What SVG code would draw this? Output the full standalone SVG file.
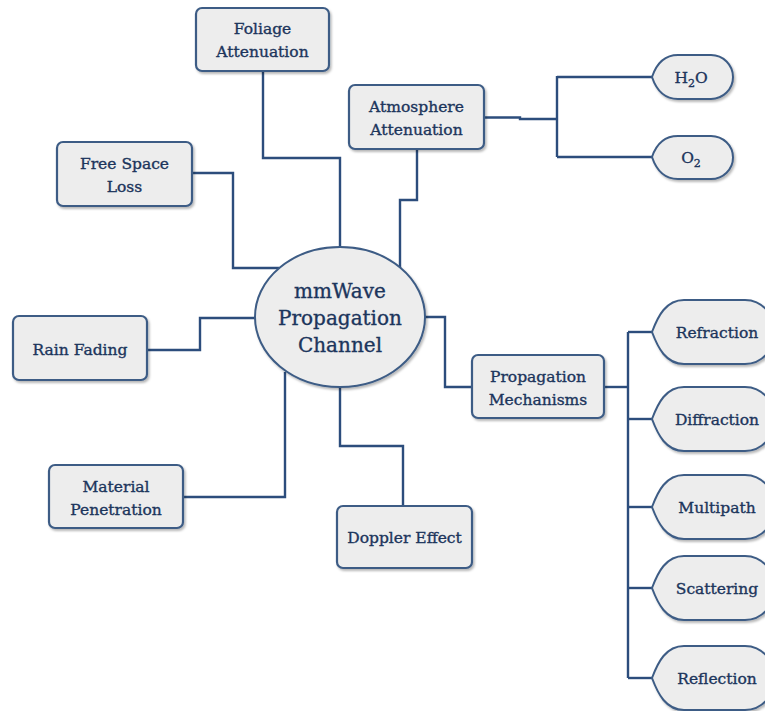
<svg xmlns="http://www.w3.org/2000/svg" width="765" height="711" viewBox="0 0 765 711">
  <defs>
    <filter id="shadow" x="-10%" y="-10%" width="130%" height="140%">
      <feDropShadow dx="1.5" dy="2" stdDeviation="1.2" flood-color="#000" flood-opacity="0.28"/>
    </filter>
    <style>
      .box { fill: #ededed; stroke: #3d5c85; stroke-width: 2.2; filter: url(#shadow); }
      .leaf { fill: #ededed; stroke: #3d5c85; stroke-width: 2; filter: url(#shadow); }
      .hub { fill: #ededed; stroke: #3d5c85; stroke-width: 2; filter: url(#shadow); }
      .lbl { font-family: "DejaVu Serif", "Liberation Serif", serif; font-size: 15.5px; fill: #1c355c; stroke: #1c355c; stroke-width: 0.35; text-anchor: middle; }
      .hubl { font-family: "DejaVu Serif", "Liberation Serif", serif; font-size: 20px; fill: #1c355c; stroke: #1c355c; stroke-width: 0.35; text-anchor: middle; }
      .wire { fill: none; stroke: #2c4d7c; stroke-width: 2.4; }
    </style>
  </defs>
  <rect width="765" height="711" fill="#ffffff"/>

  <!-- connectors -->
  <g id="connectors" class="wire">
    <path d="M263,71 V158 H340 V247"/>
    <path d="M417,149 V200 H400 V268"/>
    <path d="M484,117.5 H520 V119 H557"/>
    <path d="M557,76 V157"/>
    <path d="M557,77 H652"/>
    <path d="M557,157 H652"/>
    <path d="M192,173 H233 V268 H279"/>
    <path d="M147,350 H200 V318 H256"/>
    <path d="M183,497 H285 V372"/>
    <path d="M403,506 V446 H340 V387"/>
    <path d="M425,317 H445 V387 H472"/>
    <path d="M604,387 H628"/>
    <path d="M628,332 V678"/>
    <path d="M628,332 H652"/>
    <path d="M628,419 H652"/>
    <path d="M628,507 H652"/>
    <path d="M628,588 H652"/>
    <path d="M628,678 H652"/>
  </g>

  <!-- central hub -->
  <g id="hub">
    <ellipse class="hub" cx="340" cy="317" rx="85" ry="70"/>
    <text class="hubl" x="340" y="298">mmWave</text>
    <text class="hubl" x="340" y="325">Propagation</text>
    <text class="hubl" x="340" y="352">Channel</text>
  </g>

  <g id="foliage">
    <rect class="box" x="196" y="8" width="133" height="63" rx="6"/>
    <text class="lbl" x="262.5" y="34">Foliage</text>
    <text class="lbl" x="262.5" y="57">Attenuation</text>
  </g>

  <g id="atmosphere">
    <rect class="box" x="349" y="85" width="135" height="64" rx="6"/>
    <text class="lbl" x="416.5" y="112">Atmosphere</text>
    <text class="lbl" x="416.5" y="135">Attenuation</text>
  </g>

  <g id="h2o">
    <path class="leaf" d="M652,77 C656,65 663,55 678,55 L711,55 A22,22 0 0 1 711,99 L678,99 C663,99 656,89 652,77 Z"/>
    <text class="lbl" x="691" y="83">H<tspan font-size="11" dy="4">2</tspan><tspan dy="-4">O</tspan></text>
  </g>

  <g id="o2">
    <path class="leaf" d="M652,157 C656,145 663,136 678,136 L711,136 A22,21.5 0 0 1 711,179 L678,179 C663,179 656,169 652,157 Z"/>
    <text class="lbl" x="691" y="163">O<tspan font-size="11" dy="4">2</tspan></text>
  </g>

  <g id="free-space">
    <rect class="box" x="57" y="142" width="135" height="64" rx="6"/>
    <text class="lbl" x="124.5" y="169">Free Space</text>
    <text class="lbl" x="124.5" y="192">Loss</text>
  </g>

  <g id="rain">
    <rect class="box" x="13" y="316" width="134" height="64" rx="6"/>
    <text class="lbl" x="80" y="355">Rain Fading</text>
  </g>

  <g id="material">
    <rect class="box" x="49" y="465" width="134" height="63" rx="6"/>
    <text class="lbl" x="116" y="492">Material</text>
    <text class="lbl" x="116" y="515">Penetration</text>
  </g>

  <g id="doppler">
    <rect class="box" x="337" y="506" width="135" height="62" rx="6"/>
    <text class="lbl" x="404.5" y="543">Doppler Effect</text>
  </g>

  <g id="mechanisms">
    <rect class="box" x="472" y="355" width="132" height="63" rx="6"/>
    <text class="lbl" x="538" y="382">Propagation</text>
    <text class="lbl" x="538" y="405">Mechanisms</text>
  </g>

  <g id="refraction">
    <path class="leaf" d="M652,332 C658,316 666,300 684,300 L745,300 A30,32 0 0 1 745,364 L684,364 C666,364 658,348 652,332 Z"/>
    <text class="lbl" x="717" y="338">Refraction</text>
  </g>

  <g id="diffraction">
    <path class="leaf" d="M652,419 C658,403 666,387 684,387 L745,387 A30,32 0 0 1 745,451 L684,451 C666,451 658,435 652,419 Z"/>
    <text class="lbl" x="717" y="425">Diffraction</text>
  </g>

  <g id="multipath">
    <path class="leaf" d="M652,507 C658,491 666,475 684,475 L745,475 A30,32 0 0 1 745,539 L684,539 C666,539 658,523 652,507 Z"/>
    <text class="lbl" x="717" y="513">Multipath</text>
  </g>

  <g id="scattering">
    <path class="leaf" d="M652,588 C658,572 666,556 684,556 L745,556 A30,32 0 0 1 745,620 L684,620 C666,620 658,604 652,588 Z"/>
    <text class="lbl" x="717" y="594">Scattering</text>
  </g>

  <g id="reflection">
    <path class="leaf" d="M652,678 C658,662 666,646 684,646 L745,646 A30,32 0 0 1 745,710 L684,710 C666,710 658,694 652,678 Z"/>
    <text class="lbl" x="717" y="684">Reflection</text>
  </g>
</svg>
